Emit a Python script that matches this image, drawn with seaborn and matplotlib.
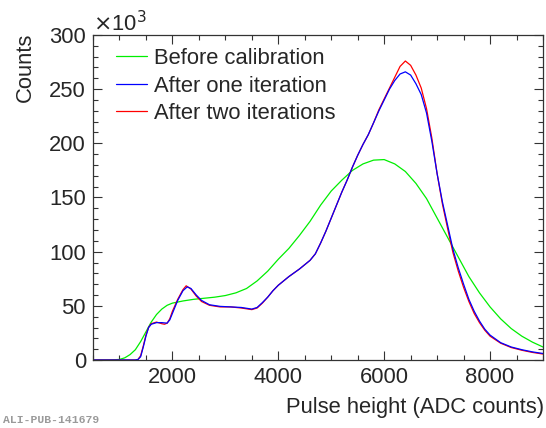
import numpy as np
import pandas as pd
import matplotlib
matplotlib.use("Agg")
import matplotlib.pyplot as plt
from matplotlib.ticker import MultipleLocator
import seaborn as sns

# ---------------- data ----------------
labels = ["Before calibration", "After one iteration", "After two iterations"]

x_before = [500, 800, 1000, 1100, 1200, 1300, 1400, 1500, 1600, 1700, 1800, 1900,
            2000, 2200, 2400, 2600, 2800, 3000, 3200, 3400, 3600, 3800, 4000, 4200,
            4400, 4600, 4800, 5000, 5200, 5400, 5600, 5800, 6000, 6200, 6400, 6600,
            6800, 7000, 7200, 7400, 7600, 7800, 8000, 8200, 8400, 8600, 8800, 9000]
y_before = [0, 0, 0.5, 2, 5, 9.5, 17, 26, 35, 42, 47, 50.5,
            52.5, 54.5, 56, 57, 58, 59.5, 62, 66, 73, 82, 93, 103,
            115, 128, 143, 156, 166, 175, 181, 184.5, 185, 181, 174, 163,
            149, 131, 113, 95, 77, 62, 49, 38, 29, 22, 16.5, 12]

x_one = [500, 1300, 1350, 1400, 1450, 1500, 1550, 1600, 1700, 1800, 1900, 1950,
         2000, 2100, 2200, 2280, 2350, 2450, 2550, 2700, 2900, 3100, 3300, 3500,
         3600, 3700, 3800, 3900, 4000, 4200, 4400, 4600, 4700, 4800, 4900, 5000,
         5100, 5200, 5300, 5400, 5500, 5600, 5700, 5800, 5900, 6000, 6100, 6200,
         6300, 6400, 6500, 6600, 6700, 6800, 6900, 7000, 7100, 7200, 7300, 7400,
         7500, 7600, 7700, 7800, 7900, 8000, 8200, 8400, 8600, 8800, 9000]
y_one = [0, 0, 0.5, 3, 12, 22, 30, 33, 34.5, 34.5, 34, 37,
         43, 55, 64, 67.5, 66, 60, 55, 51, 49.5, 49, 48.5, 47,
         48.5, 53, 58, 64, 69, 77, 84, 92, 98, 108, 119, 131,
         143, 155, 166, 178, 189, 199, 208, 219, 230, 240, 250, 258,
         264, 266, 263, 255, 245, 228, 202, 172, 146, 124, 102, 85,
         70, 56, 45, 36, 28.5, 23, 16, 12, 9.5, 7.5, 6]

x_two = [500, 1300, 1350, 1400, 1450, 1500, 1550, 1600, 1700, 1800, 1850, 1900,
         1950, 2000, 2100, 2200, 2260, 2350, 2450, 2550, 2700, 2900, 3100, 3300,
         3500, 3600, 3700, 3800, 3900, 4000, 4200, 4400, 4600, 4700, 4800, 4900,
         5000, 5100, 5200, 5300, 5400, 5500, 5600, 5700, 5800, 5900, 6000, 6100,
         6200, 6300, 6400, 6500, 6600, 6700, 6800, 6900, 7000, 7100, 7200, 7300,
         7400, 7500, 7600, 7700, 7800, 7900, 8000, 8200, 8400, 8600, 8800, 9000]
y_two = [0, 0, 0.5, 4, 13, 23, 30, 33.5, 35, 33.5, 33, 34,
         38, 45, 56, 65, 68.5, 65.5, 59, 54, 50.5, 49, 49, 48,
         46.5, 48, 52.5, 58, 64, 69, 77, 84, 92, 98, 108, 119,
         131, 143, 155, 166, 178, 189, 199, 208, 219, 231, 241, 251,
         261, 271, 276, 272, 263, 251, 232, 205, 172, 144, 121, 99,
         82, 67, 54, 43, 34.5, 27.5, 22, 15.5, 11.5, 9, 7, 5.5]

colors = {"Before calibration": "#00ee00",
          "After one iteration": "#0000ff",
          "After two iterations": "#ff0000"}

# ---------------- style ----------------
sns.set_theme(style="ticks")
plt.rcParams["font.family"] = ["Liberation Sans", "DejaVu Sans"]
plt.rcParams["axes.edgecolor"] = "#333333"
FS = 15.8

fig = plt.figure(figsize=(5.46, 4.28), dpi=100)
W, H = 546.0, 428.0
ax = fig.add_axes([93 / W, 1 - 360 / H, (543 - 93) / W, (360 - 35) / H])

df_before = pd.DataFrame({"x": x_before, "y": y_before})
df_one = pd.DataFrame({"x": x_one, "y": y_one})
df_two = pd.DataFrame({"x": x_two, "y": y_two})

lw = 0.9
sns.lineplot(data=df_before, x="x", y="y", ax=ax, color=colors[labels[0]], lw=lw,
             label=labels[0], estimator=None, sort=False)
sns.lineplot(data=df_two, x="x", y="y", ax=ax, color=colors[labels[2]], lw=lw,
             label=labels[2], estimator=None, sort=False)
sns.lineplot(data=df_one, x="x", y="y", ax=ax, color=colors[labels[1]], lw=lw,
             label=labels[1], estimator=None, sort=False)

ax.set_xlim(500, 9000)
ax.set_ylim(0, 300)
ax.xaxis.set_major_locator(MultipleLocator(2000))
ax.xaxis.set_minor_locator(MultipleLocator(500))
ax.yaxis.set_major_locator(MultipleLocator(50))
ax.yaxis.set_minor_locator(MultipleLocator(10))
ax.tick_params(which="both", direction="in", top=True, right=True,
               color="#333333", width=0.8)
ax.tick_params(which="major", length=6.5, labelsize=FS, pad=5)
ax.tick_params(which="minor", length=3.6)
ax.set_xlabel("")
ax.set_ylabel("")
for s in ax.spines.values():
    s.set_linewidth(0.9)

handles, labs = ax.get_legend_handles_labels()
order = [labs.index(l) for l in labels]
ax.legend([handles[i] for i in order], [labs[i] for i in order],
          loc="upper left", bbox_to_anchor=(116 / W, 1 - 48 / H),
          bbox_transform=fig.transFigure, frameon=False, fontsize=FS,
          handlelength=1.4, handletextpad=0.35, labelspacing=0.3,
          borderpad=0, borderaxespad=0)

fig.text(25 / W, 1 - 33 / H, "Counts", rotation=90, ha="center", va="top",
         fontsize=FS)
fig.text(544 / W, 1 - 408 / H, "Pulse height (ADC counts)", ha="right",
         va="center", fontsize=FS)
fig.text(93 / W, 1 - 31 / H, r"$\times$10$^{3}$", ha="left", va="baseline",
         fontsize=FS)
fig.text(3 / W, 1 - 420 / H, "ALI-PUB-141679", ha="left", va="center",
         fontsize=8.2, family="Liberation Mono", color="#9a9a9a",
         fontweight="bold")

fig.savefig("out.png", dpi=100, facecolor="white")
